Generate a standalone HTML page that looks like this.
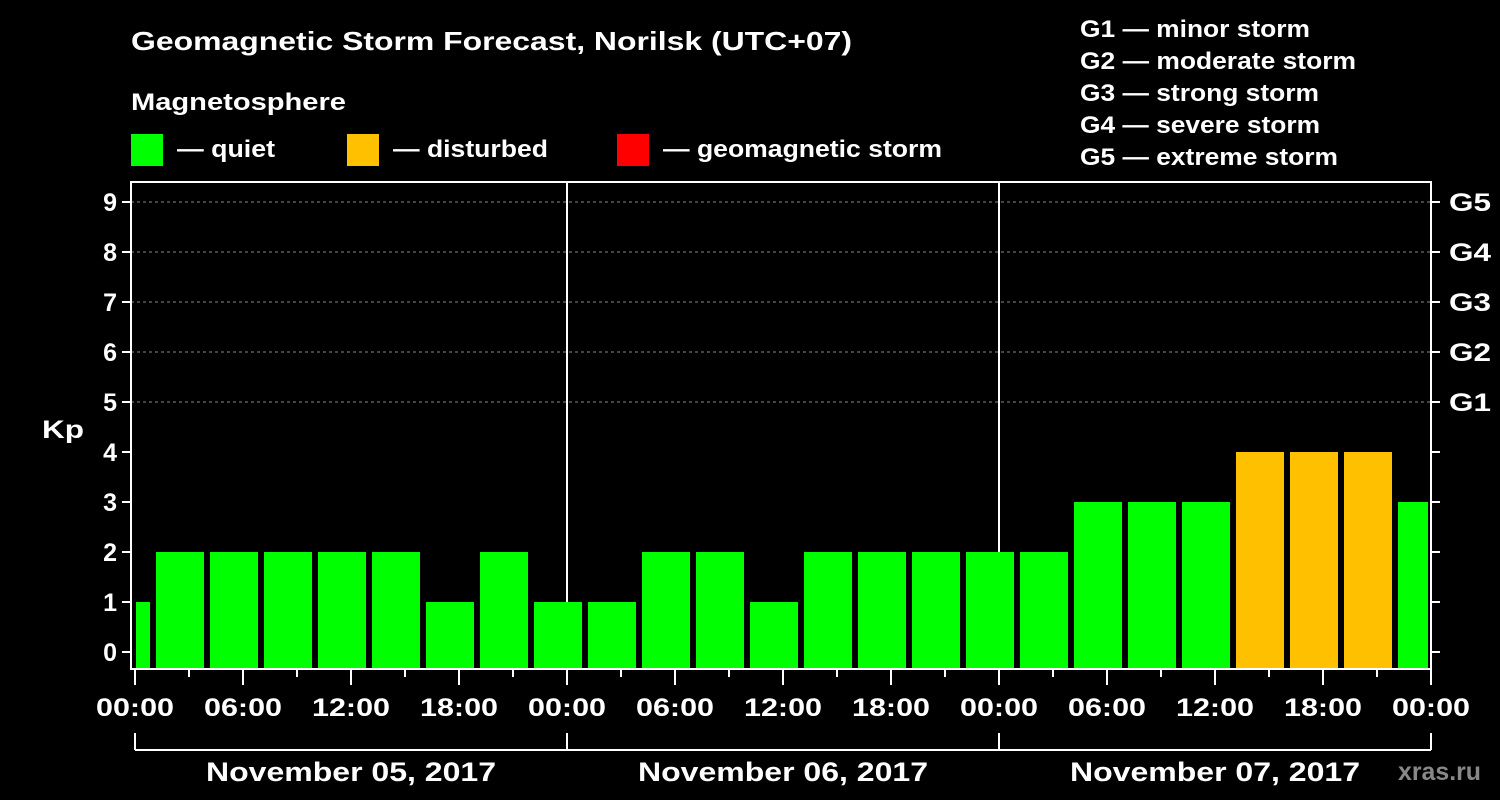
<!DOCTYPE html>
<html><head><meta charset="utf-8"><style>
html,body{margin:0;padding:0;background:#000;}
svg{display:block;}
text{font-family:"Liberation Sans",Arial,sans-serif;font-weight:bold;}
</style></head><body>
<svg id="chart" width="1500" height="800" viewBox="0 0 1500 800">
<rect width="1500" height="800" fill="#000"/>
<text x="131" y="50" fill="#fff" font-size="26" textLength="721" lengthAdjust="spacingAndGlyphs">Geomagnetic Storm Forecast, Norilsk (UTC+07)</text>
<text x="131" y="110" fill="#fff" font-size="24" textLength="215" lengthAdjust="spacingAndGlyphs">Magnetosphere</text>
<g><rect x="131" y="134" width="32" height="32" fill="#00ff00"/><text x="177" y="157" fill="#fff" font-size="24" textLength="98" lengthAdjust="spacingAndGlyphs">— quiet</text></g>
<g><rect x="347" y="134" width="32" height="32" fill="#ffc000"/><text x="393" y="157" fill="#fff" font-size="24" textLength="155" lengthAdjust="spacingAndGlyphs">— disturbed</text></g>
<g><rect x="617" y="134" width="32" height="32" fill="#ff0000"/><text x="663" y="157" fill="#fff" font-size="24" textLength="279" lengthAdjust="spacingAndGlyphs">— geomagnetic storm</text></g>
<g fill="#fff" font-size="24">
<text x="1080" y="37" textLength="230" lengthAdjust="spacingAndGlyphs">G1 — minor storm</text>
<text x="1080" y="69" textLength="276" lengthAdjust="spacingAndGlyphs">G2 — moderate storm</text>
<text x="1080" y="101" textLength="239" lengthAdjust="spacingAndGlyphs">G3 — strong storm</text>
<text x="1080" y="133" textLength="240" lengthAdjust="spacingAndGlyphs">G4 — severe storm</text>
<text x="1080" y="165" textLength="258" lengthAdjust="spacingAndGlyphs">G5 — extreme storm</text>
</g>
<text x="42" y="438" fill="#fff" font-size="25" textLength="42" lengthAdjust="spacingAndGlyphs">Kp</text>
<text x="1398" y="780" fill="#888" font-size="25" textLength="83" lengthAdjust="spacingAndGlyphs">xras.ru</text>
<g id="grid"></g><g id="bars"></g><g id="axes"></g>
</svg>
<script>
const kpValues=[1,2,2,2,2,2,1,2,1,1,2,2,1,2,2,2,2,2,3,3,3,4,4,4,3];
const yTicks=[0,1,2,3,4,5,6,7,8,9];
const gLabels=["G1","G2","G3","G4","G5"];
const timeLabels=["00:00","06:00","12:00","18:00"];
const dayLabels=["November 05, 2017","November 06, 2017","November 07, 2017"];
const NS="http://www.w3.org/2000/svg";
const x0=135, pxH=18, plotL=131, plotR=1431, plotT=182, plotB=669;
const X=h=>x0+h*pxH;
const Y=v=>652-v*50;
function mk(tag,attrs,parent){const e=document.createElementNS(NS,tag);for(const k in attrs)e.setAttribute(k,attrs[k]);parent.appendChild(e);return e;}
const grid=document.getElementById('grid'),bars=document.getElementById('bars'),axes=document.getElementById('axes');
yTicks.forEach(v=>{if(v>=5){const l=mk('line',{x1:plotL,x2:plotR,y1:Y(v),y2:Y(v),stroke:'#888','stroke-dasharray':'3,3','stroke-width':1},grid);

}});
[1,2].forEach(d=>{const l=mk('line',{x1:X(24*d),x2:X(24*d),y1:plotT,y2:plotB,stroke:'#fff','stroke-width':2},grid);

});
kpValues.forEach((v,i)=>{let s=-2+3*i,e=s+3;s=Math.max(s,0);e=Math.min(e,72);
const xa=X(s)+(i===0?1:3),xb=X(e)-3;
const r=mk('rect',{x:xa,y:Y(v),width:xb-xa,height:plotB-Y(v),fill:v>=5?'#ff0000':(v>=4?'#ffc000':'#00ff00')},bars);

});
const fr=mk('rect',{x:plotL,y:plotT,width:plotR-plotL,height:plotB-plotT,fill:'none',stroke:'#fff','stroke-width':2},axes);


yTicks.forEach(v=>{
mk('line',{x1:plotL-9,x2:plotL,y1:Y(v),y2:Y(v),stroke:'#fff','stroke-width':2},axes);
mk('line',{x1:plotR,x2:plotR+9,y1:Y(v),y2:Y(v),stroke:'#fff','stroke-width':2},axes);
const t=mk('text',{x:plotL-14,y:Y(v)+9,fill:'#fff','font-size':25,'text-anchor':'end'},axes);t.textContent=v;


if(v>=5){const g=mk('text',{x:plotR+18,y:Y(v)+9,fill:'#fff','font-size':25,textLength:42,lengthAdjust:'spacingAndGlyphs'},axes);g.textContent=gLabels[v-5];

}
});
for(let h=0;h<=72;h+=3){const major=h%6===0;mk('line',{x1:X(h),x2:X(h),y1:plotB,y2:plotB+(major?16:8),stroke:'#fff','stroke-width':2},axes);}
for(let h=0;h<=72;h+=6){const t=mk('text',{x:X(h)-39,y:716,fill:'#fff','font-size':25,textLength:78,lengthAdjust:'spacingAndGlyphs'},axes);t.textContent=h===72?"00:00":timeLabels[(h/6)%4];

}
mk('line',{x1:X(0),x2:X(72),y1:750,y2:750,stroke:'#fff','stroke-width':2},axes);
for(let d=0;d<=3;d++)mk('line',{x1:X(24*d),x2:X(24*d),y1:733,y2:750,stroke:'#fff','stroke-width':2},axes);
dayLabels.forEach((s,d)=>{const t=mk('text',{x:X(24*d+12)-145,y:781,fill:'#fff','font-size':27,textLength:290,lengthAdjust:'spacingAndGlyphs'},axes);t.textContent=s;

});
</script>
</body></html>
